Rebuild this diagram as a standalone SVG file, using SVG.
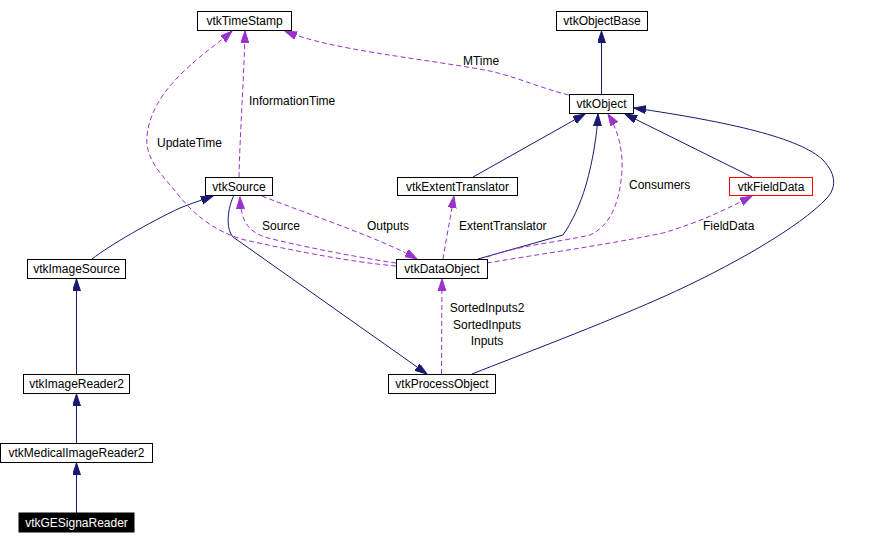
<svg xmlns="http://www.w3.org/2000/svg" width="873" height="544" viewBox="0 0 873 544">
<style>
text{font-family:"Liberation Sans",Arial,sans-serif;font-size:12px;fill:#000}
.n rect{fill:#fff;stroke:#000;stroke-width:1}
.n text{text-anchor:middle}
.s{fill:none;stroke:#191970;stroke-width:1;marker-end:url(#an)}
.d{fill:none;stroke:#9a32cd;stroke-width:1;stroke-dasharray:5,3;marker-end:url(#ap)}
.c{text-anchor:middle}
</style>
<defs>
<marker id="an" markerUnits="userSpaceOnUse" markerWidth="13" markerHeight="9" refX="12" refY="4" orient="auto" viewBox="0 0 13 9"><path d="M0,0 L12,4 L0,8 z" fill="#191970" stroke="#191970"/></marker>
<marker id="ap" markerUnits="userSpaceOnUse" markerWidth="13" markerHeight="9" refX="12" refY="4" orient="auto" viewBox="0 0 13 9"><path d="M0,0 L12,4 L0,8 z" fill="#9a32cd" stroke="#9a32cd"/></marker>
</defs>
<rect width="873" height="544" fill="#fff"/>
<g id="edges">
<path class="s" d="M601.5,94 L601.5,31"/>
<path class="d" d="M569,95 C540,88 520,78 490,71 C420,58 330,50 285,31"/>
<path class="d" d="M239,177 C240,130 244,80 245,31"/>
<path class="d" d="M396,266 C350,262 290,250 245,240 C215,232 195,215 180,197 C165,178 150,165 147,145 C145,120 160,95 180,75 C200,55 220,42 232,31"/>
<path class="d" d="M396,263 C350,256 300,246 268,238 C248,232 241,222 240,197"/>
<path class="d" d="M262,196 C310,215 380,238 417,259"/>
<path class="s" d="M234,195 C228,207 225,228 233,237 L427,374"/>
<path class="s" d="M92,259 C110,245 150,222 180,208 C195,202 205,199 213,196"/>
<path class="s" d="M76.5,374 L76.5,279"/>
<path class="s" d="M76.5,443 L76.5,394"/>
<path class="s" d="M76.5,513 L76.5,463"/>
<path class="s" d="M473,177 L585,114"/>
<path class="s" d="M478,259 L563,235 C572,222 580,205 586,185 C593,160 597,135 598,114"/>
<path class="d" d="M487,257 C520,245 560,242 590,235 C612,225 620,200 622,170 C623,150 618,130 608,114"/>
<path class="d" d="M487,263 C540,254 600,246 663,233 C700,222 725,210 752,196"/>
<path class="s" d="M752,177 L625,114"/>
<path class="s" d="M472,374 C520,355 600,325 663,297 C730,267 800,227 827,198 C836,188 837,175 823,160 C800,138 730,122 634,108"/>
<path class="d" d="M441.5,374 L442,279"/>
<path class="d" d="M443,259 C446,240 450,220 454,196"/>
<text x="481" y="65" class="c">MTime</text>
<text x="249" y="105">InformationTime</text>
<text x="157" y="147">UpdateTime</text>
<text x="262" y="230">Source</text>
<text x="367" y="230">Outputs</text>
<text x="459" y="230">ExtentTranslator</text>
<text x="629" y="189">Consumers</text>
<text x="703" y="230">FieldData</text>
<text x="487" y="312" class="c">SortedInputs2</text>
<text x="487" y="329" class="c">SortedInputs</text>
<text x="487" y="345" class="c">Inputs</text>
</g>
<g id="vtkTimeStamp" class="n"><rect x="197.5" y="11.5" width="94" height="19"/><text x="244.5" y="25">vtkTimeStamp</text></g>
<g id="vtkObjectBase" class="n"><rect x="556.5" y="11.5" width="91" height="19"/><text x="602" y="25">vtkObjectBase</text></g>
<g id="vtkObject" class="n"><rect x="569.5" y="94.5" width="64" height="19"/><text x="601.5" y="108">vtkObject</text></g>
<g id="vtkSource" class="n"><rect x="205.5" y="177.5" width="67" height="18"/><text x="239" y="191">vtkSource</text></g>
<g id="vtkExtentTranslator" class="n"><rect x="397.5" y="177.5" width="120" height="18"/><text x="457.5" y="191">vtkExtentTranslator</text></g>
<g id="vtkFieldData" class="n"><rect x="729.5" y="177.5" width="83" height="18" style="stroke:#ff0000"/><text x="771" y="191">vtkFieldData</text></g>
<g id="vtkImageSource" class="n"><rect x="27.5" y="259.5" width="98" height="19"/><text x="76.5" y="273">vtkImageSource</text></g>
<g id="vtkDataObject" class="n"><rect x="396.5" y="259.5" width="91" height="19"/><text x="442" y="273">vtkDataObject</text></g>
<g id="vtkProcessObject" class="n"><rect x="388.5" y="374.5" width="107" height="19"/><text x="442" y="388">vtkProcessObject</text></g>
<g id="vtkImageReader2" class="n"><rect x="23.5" y="374.5" width="106" height="19"/><text x="76.5" y="388">vtkImageReader2</text></g>
<g id="vtkMedicalImageReader2" class="n"><rect x="0.5" y="443.5" width="152" height="19"/><text x="76.5" y="457">vtkMedicalImageReader2</text></g>
<g id="vtkGESignaReader" class="n"><rect x="19" y="513" width="115" height="19" style="fill:#000;stroke:#000"/><text x="76.5" y="527" style="fill:#fff">vtkGESignaReader</text></g>
</svg>
